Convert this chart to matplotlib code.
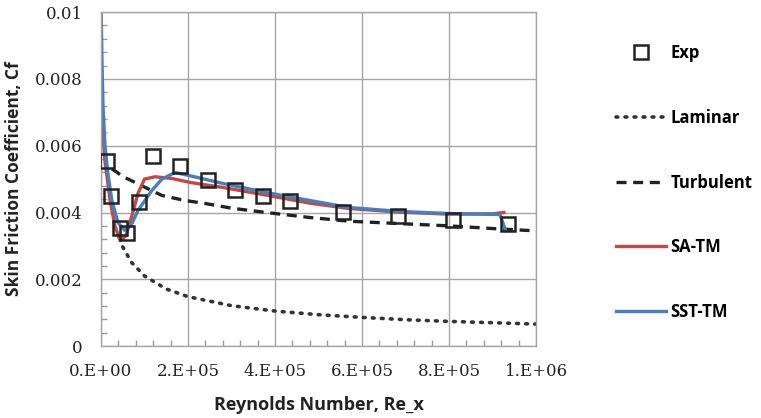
import numpy as np
import matplotlib
matplotlib.use("Agg")
import matplotlib.pyplot as plt
from matplotlib.ticker import MultipleLocator

# Experimental data (Re_x, Cf)
exp_re = [1.4e4, 2.3e4, 4.4e4, 6.0e4, 8.7e4, 1.19e5, 1.82e5, 2.46e5, 3.08e5,
          3.72e5, 4.34e5, 5.56e5, 6.83e5, 8.09e5, 9.36e5]
exp_cf = [0.00555, 0.0045, 0.00355, 0.0034, 0.0043, 0.00570, 0.00540, 0.00496,
          0.00466, 0.00448, 0.00433, 0.00403, 0.00389, 0.00377, 0.00365]

# Laminar correlation curve
lam_re = [5.0e4, 7.0e4, 1.0e5, 1.5e5, 2.0e5, 3.0e5, 4.0e5, 5.0e5, 6.0e5,
          7.0e5, 8.0e5, 9.0e5, 1.0e6]
lam_cf = [0.00297, 0.00251, 0.00210, 0.00171, 0.00148, 0.00121, 0.00105,
          0.00094, 0.00086, 0.00079, 0.00074, 0.00070, 0.00066]

# Turbulent correlation curve
turb_re = [2.5e4, 5.0e4, 9.4e4, 1.4e5, 1.93e5, 2.4e5, 3.0e5, 3.8e5, 4.8e5,
           5.7e5, 7.0e5, 8.0e5, 9.0e5, 1.0e6]
turb_cf = [0.00531, 0.00508, 0.00480, 0.00451, 0.00436, 0.00427, 0.00413,
           0.00400, 0.00385, 0.00374, 0.00366, 0.00360, 0.00352, 0.00345]

# SA-TM model
sa_re = [2e3, 9e3, 2.1e4, 3.2e4, 4.4e4, 5.7e4, 7.1e4, 8.5e4, 1.0e5, 1.24e5,
         1.63e5, 2.05e5, 2.8e5, 3.8e5, 4.8e5, 5.7e5, 6.9e5, 8.0e5, 9.0e5, 9.26e5]
sa_cf = [0.0068, 0.00555, 0.00436, 0.0036, 0.00316, 0.0033, 0.0039, 0.00457,
         0.0050, 0.00507, 0.00502, 0.0049, 0.00475, 0.00452, 0.00428, 0.00412,
         0.00401, 0.00395, 0.00396, 0.0040]

# SST-TM model
sst_re = [500, 2.3e3, 4.6e3, 9.2e3, 1.6e4, 2.5e4, 3.9e4, 5.5e4, 6.9e4, 8.5e4,
          1.17e5, 1.4e5, 1.7e5, 2.05e5, 2.8e5, 3.8e5, 4.8e5, 5.7e5, 6.9e5,
          8.0e5, 9.17e5, 9.3e5]
sst_cf = [0.00994, 0.00854, 0.0072, 0.0060, 0.00516, 0.00436, 0.0037, 0.00346,
          0.00361, 0.00406, 0.00466, 0.0050, 0.0052, 0.0051, 0.00487, 0.0046,
          0.00436, 0.00415, 0.00403, 0.00397, 0.00394, 0.00346]

x_ticks = [0, 2e5, 4e5, 6e5, 8e5, 1e6]
x_ticklabels = ['0.E+00', '2.E+05', '4.E+05', '6.E+05', '8.E+05', '1.E+06']
y_ticks = [0, 0.002, 0.004, 0.006, 0.008, 0.01]
y_ticklabels = ['0', '0.002', '0.004', '0.006', '0.008', '0.01']

fig = plt.figure(figsize=(7.61, 4.18), dpi=100)
ax = fig.add_axes([0.1327, 0.172, 0.5717, 0.799])

exp_h, = ax.plot(exp_re, exp_cf, linestyle='none', marker='s', markersize=10,
                 markerfacecolor='none', markeredgecolor='#222222',
                 markeredgewidth=1.8, label='Exp', zorder=5)
lam_h, = ax.plot(lam_re, lam_cf, color='#333333', linestyle=(0, (0.5, 2.0)),
                 linewidth=2.6, dash_capstyle='round', label='Laminar')
turb_h, = ax.plot(turb_re, turb_cf, color='#222222', linestyle=(0, (3.0, 2.0)),
                  linewidth=2.4, label='Turbulent')
sa_h, = ax.plot(sa_re, sa_cf, color='#BE4B48', linewidth=2.4, label='SA-TM')
sst_h, = ax.plot(sst_re, sst_cf, color='#4A7EBB', linewidth=2.4, label='SST-TM')

ax.set_xlim(0, 1e6)
ax.set_ylim(0, 0.01)
ax.set_xticks(x_ticks)
ax.set_xticklabels(x_ticklabels)
ax.set_yticks(y_ticks)
ax.set_yticklabels(y_ticklabels)
ax.xaxis.set_minor_locator(MultipleLocator(4e4))
ax.yaxis.set_minor_locator(MultipleLocator(0.0004))

ax.tick_params(which='major', length=0, labelsize=12, colors='#222222')
ax.tick_params(axis='x', which='major', pad=12)
ax.tick_params(axis='y', which='major', pad=13)
ax.tick_params(which='minor', direction='in', length=4, width=1, color='#999999')
for lbl in ax.get_xticklabels() + ax.get_yticklabels():
    lbl.set_fontfamily('DejaVu Serif')

ax.grid(True, which='major', color='#a6a6a6', linewidth=1.0)
for sp in ax.spines.values():
    sp.set_color('#a6a6a6')
    sp.set_linewidth(1.0)

ax.set_xlabel('Reynolds Number, Re_x', fontsize=13, fontweight='bold',
              fontfamily='Open Sans', color='#222222', labelpad=12)
ax.set_ylabel('Skin Friction Coefficient, Cf', fontsize=12.5, fontweight='bold',
              fontfamily='Open Sans', color='#222222', labelpad=9)

fig.legend(handles=[exp_h, lam_h, turb_h, sa_h, sst_h],
           loc='upper left', bbox_to_anchor=(0.79, 0.93), frameon=False,
           prop={'family': 'Open Sans', 'weight': 'bold', 'size': 12},
           handlelength=3.0, handletextpad=0.25, labelspacing=2.8)

fig.savefig('out.png', dpi=100)
